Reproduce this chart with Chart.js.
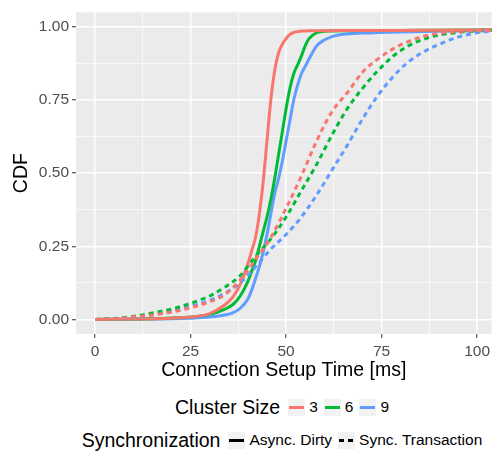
<!DOCTYPE html>
<html>
<head>
<meta charset="utf-8">
<script src="https://cdn.jsdelivr.net/npm/chart.js@4.4.1/dist/chart.umd.min.js"></script>
<style>
  body { margin: 0; background: #fff; font-family: "Liberation Sans", Arial, sans-serif; }
  #wrap { position: relative; width: 494px; height: 386px; }
  .row { position: absolute; left: 76px; width: 418px; display: flex; justify-content: center; align-items: center; white-space: nowrap; }
  .ttl { font-size: 19.5px; color: #000; margin-right: 8px; }
  .lab { font-size: 15.5px; color: #000; margin: 0 6px 0 4px; }
  .key { width: 17px; height: 17px; background: #f2f2f2; position: relative; display: inline-block; }
  .key i { position: absolute; left: 1px; right: 1px; top: 7px; height: 3px; }
</style>
</head>
<body>
<div id="wrap"><canvas id="grafico"></canvas></div>
<div class="row" style="top:395px;height:24px">
  <span class="ttl">Cluster Size</span>
  <span class="key"><i style="background:#F8766D"></i></span><span class="lab">3</span>
  <span class="key"><i style="background:#00BA38"></i></span><span class="lab">6</span>
  <span class="key"><i style="background:#619CFF"></i></span><span class="lab">9</span>
</div>
<div class="row" style="top:428px;height:24px">
  <span class="ttl">Synchronization</span>
  <span class="key"><i style="background:#000"></i></span><span class="lab">Async. Dirty</span>
  <span class="key"><i style="background:repeating-linear-gradient(90deg,#000 0 5px,transparent 5px 9px)"></i></span><span class="lab">Sync. Transaction</span>
</div>
<script>
// connection setup time (ms) grid for the async curves
const x_async = [0, 10, 20, 25, 30, 34, 36, 38, 40, 41, 42, 43, 44, 45, 46, 47, 48, 49, 50, 51, 52, 53, 54, 55, 56, 58, 60, 62, 65, 70, 80, 90, 104];
const async3 = [0, 0.001, 0.004, 0.008, 0.02, 0.05, 0.075, 0.12, 0.19, 0.235, 0.28, 0.36, 0.47, 0.61, 0.75, 0.85, 0.91, 0.94, 0.96, 0.974, 0.981, 0.984, 0.986, 0.986, 0.987, 0.987, 0.987, 0.987, 0.988, 0.988, 0.988, 0.989, 0.99];
const async6 = [0, 0.001, 0.005, 0.008, 0.017, 0.035, 0.05, 0.08, 0.13, 0.165, 0.2, 0.25, 0.3, 0.35, 0.41, 0.48, 0.56, 0.64, 0.72, 0.79, 0.84, 0.87, 0.90, 0.935, 0.96, 0.98, 0.985, 0.986, 0.987, 0.988, 0.988, 0.989, 0.99];
const async9 = [0, 0.001, 0.002, 0.004, 0.008, 0.015, 0.022, 0.038, 0.07, 0.1, 0.14, 0.18, 0.23, 0.29, 0.36, 0.43, 0.48, 0.54, 0.61, 0.68, 0.75, 0.80, 0.84, 0.865, 0.89, 0.935, 0.955, 0.967, 0.975, 0.979, 0.983, 0.985, 0.988];

// grid for the sync transaction curves
const x_sync = [0, 5, 10, 15, 20, 25, 30, 34, 38, 42, 46, 50, 54, 58, 62, 66, 70, 74, 78, 82, 86, 90, 95, 100, 104];
const sync3 = [0, 0.002, 0.008, 0.015, 0.025, 0.04, 0.06, 0.085, 0.135, 0.205, 0.28, 0.38, 0.49, 0.61, 0.71, 0.775, 0.845, 0.89, 0.925, 0.95, 0.968, 0.978, 0.984, 0.987, 0.988];
const sync6 = [0, 0.003, 0.01, 0.022, 0.035, 0.055, 0.08, 0.11, 0.15, 0.215, 0.275, 0.35, 0.44, 0.53, 0.63, 0.72, 0.79, 0.85, 0.9, 0.935, 0.958, 0.972, 0.981, 0.986, 0.988];
const sync9 = [0, 0.002, 0.007, 0.015, 0.028, 0.045, 0.065, 0.09, 0.125, 0.18, 0.24, 0.29, 0.35, 0.425, 0.51, 0.595, 0.685, 0.765, 0.83, 0.88, 0.915, 0.94, 0.965, 0.98, 0.986];

const x_ticks = [0, 25, 50, 75, 100];
const y_ticks = [0, 0.25, 0.5, 0.75, 1];

const cores = { 3: '#F8766D', 6: '#00BA38', 9: '#619CFF' };

function pts(xs, ys) { return xs.map((x, i) => ({ x: x, y: ys[i] })); }

function serie(label, xs, ys, cor, tracejado) {
  return {
    label: label,
    data: pts(xs, ys),
    borderColor: cor,
    borderWidth: 3,
    borderDash: tracejado ? [5, 4] : [],
    pointRadius: 0,
    fill: false,
    cubicInterpolationMode: 'monotone'
  };
}

const fundo = {
  id: 'fundo',
  beforeDraw(chart) {
    const a = chart.chartArea, c = chart.ctx;
    c.save();
    c.fillStyle = '#EBEBEB';
    c.fillRect(a.left, a.top, a.right - a.left, a.bottom - a.top);
    c.restore();
  }
};

function ehMaior(lista, v) { return lista.some(t => Math.abs(t - v) < 1e-6); }

const ctx = document.getElementById('grafico');

new Chart(ctx, {
  type: 'line',
  data: {
    datasets: [
      serie('3 Sync', x_sync, sync3, cores[3], true),
      serie('6 Sync', x_sync, sync6, cores[6], true),
      serie('9 Sync', x_sync, sync9, cores[9], true),
      serie('3 Async', x_async, async3, cores[3], false),
      serie('6 Async', x_async, async6, cores[6], false),
      serie('9 Async', x_async, async9, cores[9], false)
    ]
  },
  plugins: [fundo],
  options: {
    responsive: true,
    maintainAspectRatio: false,
    animation: false,
    layout: { padding: { top: 9, right: 0, left: 0, bottom: 0 } },
    plugins: { legend: { display: false }, tooltip: { enabled: false } },
    scales: {
      x: {
        type: 'linear',
        min: -5,
        max: 103.8,
        afterBuildTicks: s => { s.ticks = [0, 12.5, 25, 37.5, 50, 62.5, 75, 87.5, 100].map(v => ({ value: v })); },
        afterFit: s => { s.height = 52; },
        border: { display: false },
        grid: {
          color: '#FFFFFF',
          lineWidth: c => ehMaior(x_ticks, c.tick.value) ? 1.5 : 0.7,
          tickColor: c => ehMaior(x_ticks, c.tick.value) ? '#333333' : 'rgba(0,0,0,0)',
          tickLength: 4,
          tickWidth: 1
        },
        ticks: {
          autoSkip: false,
          maxRotation: 0,
          padding: 4,
          color: '#4D4D4D',
          font: { family: 'Liberation Sans', size: 15.5 },
          callback: v => ehMaior(x_ticks, v) ? String(v) : ''
        },
        title: {
          display: true,
          text: 'Connection Setup Time [ms]',
          color: '#000',
          font: { family: 'Liberation Sans', size: 19.5 },
          padding: { top: 0, bottom: 4 }
        }
      },
      y: {
        min: -0.05,
        max: 1.05,
        afterBuildTicks: s => { s.ticks = [0, 0.125, 0.25, 0.375, 0.5, 0.625, 0.75, 0.875, 1].map(v => ({ value: v })); },
        afterFit: s => { s.width = 76; },
        border: { display: false },
        grid: {
          color: '#FFFFFF',
          lineWidth: c => ehMaior(y_ticks, c.tick.value) ? 1.5 : 0.7,
          tickColor: c => ehMaior(y_ticks, c.tick.value) ? '#333333' : 'rgba(0,0,0,0)',
          tickLength: 4,
          tickWidth: 1
        },
        ticks: {
          autoSkip: false,
          padding: 3,
          color: '#4D4D4D',
          font: { family: 'Liberation Sans', size: 15.5 },
          callback: v => ehMaior(y_ticks, v) ? v.toFixed(2) : ''
        },
        title: {
          display: true,
          text: 'CDF',
          color: '#000',
          font: { family: 'Liberation Sans', size: 19.5 },
          padding: { top: 10, bottom: 0 }
        }
      }
    }
  }
});
</script>
</body>
</html>
